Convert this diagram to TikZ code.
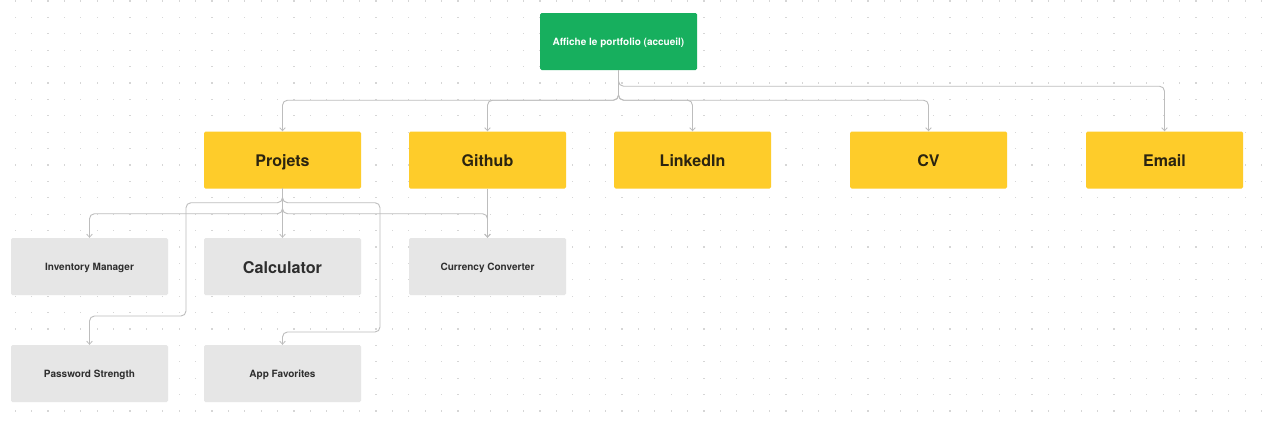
\documentclass[tikz,border=0pt]{standalone}
\usepackage{fontspec}
\setmainfont{TeX Gyre Heros}
\usetikzlibrary{arrows.meta}
\definecolor{gbox}{HTML}{17AF5E}
\definecolor{ybox}{HTML}{FECC2A}
\definecolor{grbox}{HTML}{E6E6E6}
\definecolor{conncol}{HTML}{BDBDBD}
\definecolor{dotcol}{HTML}{D6D6D6}
\definecolor{ytext}{HTML}{2B2410}
\definecolor{gtext}{HTML}{2E2E2E}
\tikzset{
  box/.style={minimum width=157pt,minimum height=57pt,inner sep=0pt,rounded corners=1.5pt,text depth=0pt},
  greenbox/.style={box,fill=gbox,text=white,text height=7.6pt,font=\bfseries\fontsize{10}{12}\selectfont},
  yellowbox/.style={box,fill=ybox,text=ytext,text height=12.5pt,font=\bfseries\fontsize{16}{19}\selectfont},
  graybox/.style={box,fill=grbox,text=gtext,text height=8.5pt,font=\bfseries\fontsize{10}{12}\selectfont},
  bigtext/.style={text height=13pt,font=\bfseries\fontsize{16.2}{19}\selectfont},
  conn/.style={draw=conncol,line width=0.9pt,rounded corners=5pt,-{Straight Barb[length=3pt,width=5.5pt,line width=0.8pt]}}
}
\begin{document}
\begin{tikzpicture}[x=1pt,y=-1pt]
\useasboundingbox (0,0) rectangle (1266,421);
\fill[white] (0,0) rectangle (1266,421);
\foreach \i in {0,...,76}{
  \foreach \j in {0,...,25}{
    \fill[dotcol] ({15.2+16.4*\i-0.55},{1+16.4*\j-0.55}) rectangle ++(1.1,1.1);
  }
}
% nodes
\node[greenbox] (g) at (618.5,41.5) {Affiche le portfolio (accueil)};
\node[yellowbox] (p) at (282.5,160) {Projets};
\node[yellowbox] (gh) at (487.5,160) {Github};
\node[yellowbox] (li) at (692.5,160) {LinkedIn};
\node[yellowbox] (cv) at (928.5,160) {CV};
\node[yellowbox] (em) at (1164.5,160) {Email};
\node[graybox] (inv) at (89.5,266.5) {Inventory Manager};
\node[graybox,bigtext] (calc) at (282.5,266.5) {Calculator};
\node[graybox] (cur) at (487.5,266.5) {Currency Converter};
\node[graybox] (pw) at (89.5,373.5) {Password Strength};
\node[graybox] (af) at (282.5,373.5) {App Favorites};
% junction coordinates
\coordinate (pwbend) at (186,316);
\coordinate (afbend) at (380,332);
% connectors from home
\draw[conn] (g.south) -- ++(0,30) -| (p.north);
\draw[conn] (g.south) -- ++(0,30) -| (gh.north);
\draw[conn] (g.south) -- ++(0,30) -| (li.north);
\draw[conn] (g.south) -- ++(0,30) -| (cv.north);
\draw[conn] (g.south) -- ++(0,16) -| (em.north);
% connectors from Projets
\draw[conn] (p.south) -- ++(0,14) -| (pwbend) -| (pw.north);
\draw[conn] (p.south) -- ++(0,14) -| (afbend) -| (af.north);
\draw[conn] (p.south) -- ++(0,25) -| (inv.north);
\draw[conn] (p.south) -- (calc.north);
\draw[conn] (p.south) -- ++(0,25) -| (cur.north);
\draw[conn] (gh.south) -- (cur.north);
\end{tikzpicture}
\end{document}
